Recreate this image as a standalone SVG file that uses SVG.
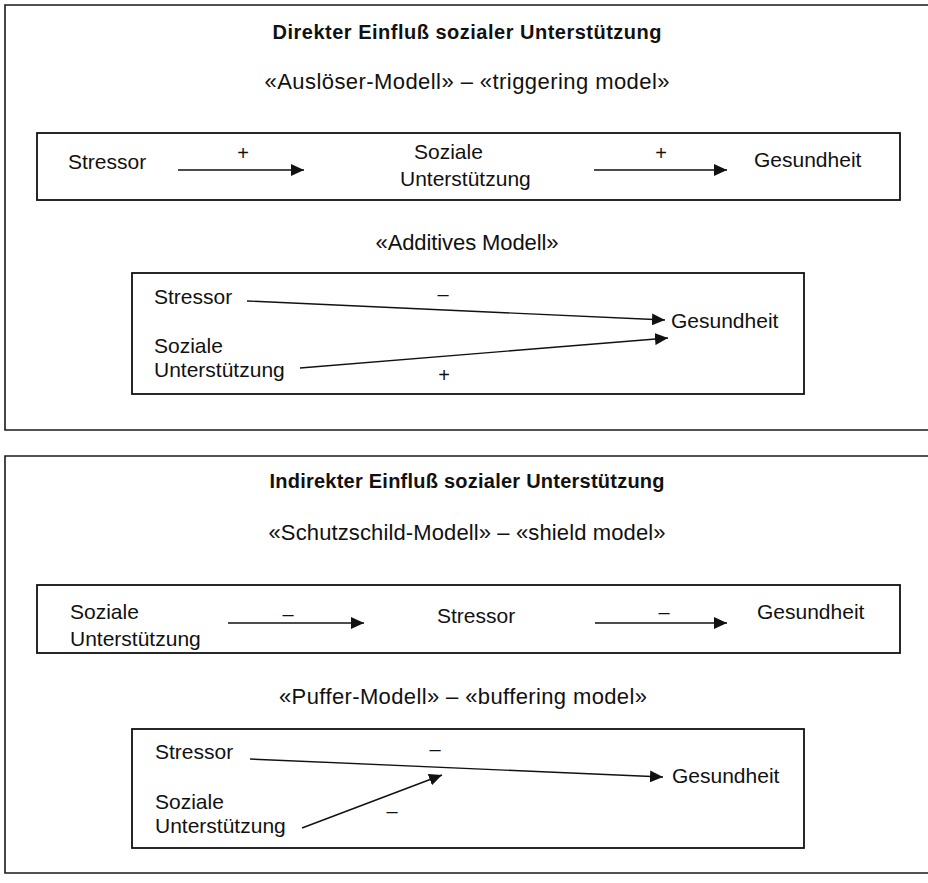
<svg xmlns="http://www.w3.org/2000/svg" width="928" height="883" viewBox="0 0 928 883">
<style>
  .frame { fill: none; stroke: #1a1a1a; stroke-width: 1.6; }
  .box { fill: none; stroke: #111; stroke-width: 1.8; }
  .conn { fill: none; stroke: #111; stroke-width: 1.4; marker-end: url(#arrow); }
  text { font-family: "Liberation Sans", Arial, Helvetica, sans-serif; fill: #111; }
  .title { font-size: 20px; font-weight: bold; text-anchor: middle; }
  .sub { font-size: 22px; text-anchor: middle; }
  .lbl { font-size: 21px; }
  .sign { font-size: 20px; text-anchor: middle; }
</style>
<defs>
  <marker id="arrow" markerUnits="userSpaceOnUse" markerWidth="14" markerHeight="12" refX="13" refY="6" orient="auto">
    <path d="M0,0 L13,6 L0,12 Z" fill="#111"/>
  </marker>
</defs>
<rect width="928" height="883" fill="#fff"/>

<!-- Section 1: direct influence -->
<g id="section-direct">
  <path class="frame" d="M928,5 H5 V430 H928"/>
  <text class="title" x="467" y="39" textLength="389" lengthAdjust="spacing">Direkter Einfluß sozialer Unterstützung</text>
  <text class="sub" x="467" y="89" textLength="405" lengthAdjust="spacing">«Auslöser-Modell» – «triggering model»</text>
  <text class="sub" x="467" y="250" textLength="183" lengthAdjust="spacing">«Additives Modell»</text>
</g>

<g id="box-trigger">
  <rect class="box" x="37" y="133" width="863" height="67"/>
</g>
<g id="node-trigger-stressor"><text class="lbl" x="68" y="169">Stressor</text></g>
<g id="node-trigger-support">
  <text class="lbl" x="414" y="159">Soziale</text>
  <text class="lbl" x="400" y="186">Unterstützung</text>
</g>
<g id="node-trigger-health"><text class="lbl" x="754" y="167">Gesundheit</text></g>

<g id="box-additive">
  <rect class="box" x="132" y="273" width="672" height="121"/>
</g>
<g id="node-additive-stressor"><text class="lbl" x="154" y="304">Stressor</text></g>
<g id="node-additive-support">
  <text class="lbl" x="154" y="353">Soziale</text>
  <text class="lbl" x="154" y="377">Unterstützung</text>
</g>
<g id="node-additive-health"><text class="lbl" x="671" y="328">Gesundheit</text></g>

<!-- Section 2: indirect influence -->
<g id="section-indirect">
  <path class="frame" d="M928,456 H5 V873 H928"/>
  <text class="title" x="467" y="488" textLength="395" lengthAdjust="spacing">Indirekter Einfluß sozialer Unterstützung</text>
  <text class="sub" x="467" y="540" textLength="397" lengthAdjust="spacing">«Schutzschild-Modell» – «shield model»</text>
  <text class="sub" x="463" y="704" textLength="368" lengthAdjust="spacing">«Puffer-Modell» – «buffering model»</text>
</g>

<g id="box-shield">
  <rect class="box" x="37" y="585" width="863" height="68"/>
</g>
<g id="node-shield-support">
  <text class="lbl" x="70" y="619">Soziale</text>
  <text class="lbl" x="70" y="646">Unterstützung</text>
</g>
<g id="node-shield-stressor"><text class="lbl" x="437" y="623">Stressor</text></g>
<g id="node-shield-health"><text class="lbl" x="757" y="619">Gesundheit</text></g>

<g id="box-buffer">
  <rect class="box" x="132" y="729" width="672" height="119"/>
</g>
<g id="node-buffer-stressor"><text class="lbl" x="155" y="759">Stressor</text></g>
<g id="node-buffer-support">
  <text class="lbl" x="155" y="809">Soziale</text>
  <text class="lbl" x="155" y="833">Unterstützung</text>
</g>
<g id="node-buffer-health"><text class="lbl" x="672" y="783">Gesundheit</text></g>

<!-- Connectors -->
<g id="connectors">
  <line class="conn" x1="178" y1="170" x2="304" y2="170"/>
  <line class="conn" x1="594" y1="170" x2="727" y2="170"/>
  <line class="conn" x1="247" y1="301" x2="665" y2="320"/>
  <line class="conn" x1="300" y1="368" x2="668" y2="338"/>
  <line class="conn" x1="228" y1="623" x2="364" y2="623"/>
  <line class="conn" x1="595" y1="623" x2="727" y2="623"/>
  <line class="conn" x1="250" y1="759" x2="663" y2="777"/>
  <line class="conn" x1="302" y1="828" x2="442" y2="775"/>
  <text class="sign" x="243" y="160">+</text>
  <text class="sign" x="661" y="160">+</text>
  <text class="sign" x="443" y="301">–</text>
  <text class="sign" x="444" y="382">+</text>
  <text class="sign" x="288" y="621">–</text>
  <text class="sign" x="664" y="619">–</text>
  <text class="sign" x="435" y="756">–</text>
  <text class="sign" x="392" y="818">–</text>
</g>
</svg>
